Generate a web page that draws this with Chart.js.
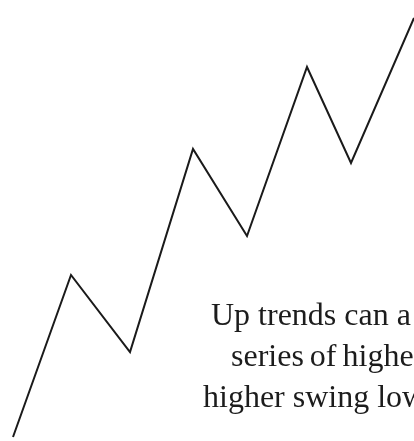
<!DOCTYPE html>
<html>
<head>
<meta charset="utf-8">
<script src="https://cdn.jsdelivr.net/npm/chart.js@4"></script>
<style>
  html, body { margin: 0; padding: 0; background: #ffffff; }
  #wrap { width: 414px; height: 441px; position: relative; }
</style>
</head>
<body>
<div id="wrap"><canvas id="c" width="414" height="441"></canvas></div>
<script>
// Swing points of the up trend (x position, price level)
const swingX = [13, 71, 130, 193, 247, 307, 351, 414];
const swingY = [4, 166, 89, 292, 205, 374, 278, 423];
// Annotation lines and their anchor (in data units)
const noteLines = ["Up trends can a", "series of higher", "higher swing lows"];
const noteX = [211, 231, 203];
const noteY = [116, 75, 34];
const noteWordGap = [0, -2, 0];

const points = swingX.map((x, i) => ({ x: x, y: swingY[i] }));

const notePlugin = {
  id: 'note',
  afterDraw(chart) {
    const ctx = chart.ctx;
    const xs = chart.scales.x, ys = chart.scales.y;
    ctx.save();
    ctx.fillStyle = '#1c1c1c';
    ctx.font = '32px "Liberation Serif", "Times New Roman", serif';
    ctx.textBaseline = 'alphabetic';
    ctx.textAlign = 'left';
    noteLines.forEach((t, i) => {
      if ('wordSpacing' in ctx) ctx.wordSpacing = noteWordGap[i] + 'px';
      ctx.fillText(t, xs.getPixelForValue(noteX[i]), ys.getPixelForValue(noteY[i]));
    });
    ctx.restore();
  }
};

new Chart(document.getElementById('c'), {
  type: 'line',
  data: {
    datasets: [{
      data: points,
      borderColor: '#1a1a1a',
      borderWidth: 2,
      pointRadius: 0,
      tension: 0,
      fill: false
    }]
  },
  options: {
    responsive: false,
    animation: false,
    layout: { padding: 0 },
    plugins: { legend: { display: false }, tooltip: { enabled: false } },
    scales: {
      x: { type: 'linear', min: 0, max: 414, display: false },
      y: { type: 'linear', min: 0, max: 441, display: false }
    }
  },
  plugins: [notePlugin]
});
</script>
</body>
</html>
